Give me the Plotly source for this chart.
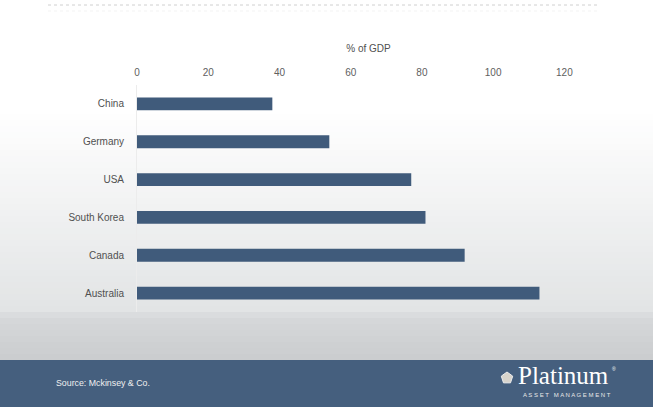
import plotly.graph_objects as go
import math

countries = ["China", "Germany", "USA", "South Korea", "Canada", "Australia"]
pct_gdp = [38, 54, 77, 81, 92, 113]
tick_vals = [0, 20, 40, 60, 80, 100, 120]

W, H = 653, 407
L, R, T, B = 137, 53, 85, 95
PW, PH = W - L - R, H - T - B


def px(x):
    return (x - L) / PW


def py(y):
    return (H - B - y) / PH


def lerp(c1, c2, t):
    return "rgb(%d,%d,%d)" % tuple(round(a + (b - a) * t) for a, b in zip(c1, c2))


fig = go.Figure(go.Bar(
    x=pct_gdp, y=countries, orientation="h",
    marker=dict(color="#405b7b", line=dict(width=0)),
    width=0.34,
))

shapes = []
# background gradient
stops = [(0, (255, 255, 255)), (110, (255, 255, 255)), (310, (226, 228, 229)),
         (318, (214, 216, 218)), (360, (202, 204, 206))]
n = 60
for i in range(n):
    y0 = i * 360 / n
    y1 = (i + 1) * 360 / n
    ym = (y0 + y1) / 2
    for (a, ca), (b, cb) in zip(stops[:-1], stops[1:]):
        if a <= ym <= b:
            col = lerp(ca, cb, (ym - a) / (b - a))
            break
    shapes.append(dict(type="rect", xref="paper", yref="paper", layer="below",
                       x0=px(0), x1=px(W), y0=py(y1 + 0.5), y1=py(y0),
                       fillcolor=col, line=dict(width=0)))
# footer band
shapes.append(dict(type="rect", xref="paper", yref="paper", layer="above",
                   x0=px(0), x1=px(W), y0=py(H), y1=py(360),
                   fillcolor="#455f7e", line=dict(width=0)))
# top faint dotted lines
shapes.append(dict(type="line", xref="paper", yref="paper", x0=px(48), x1=px(600),
                   y0=py(5), y1=py(5), line=dict(color="#c4c4c4", width=0.8, dash="dot")))
shapes.append(dict(type="line", xref="paper", yref="paper", x0=px(48), x1=px(600),
                   y0=py(11), y1=py(11), line=dict(color="#f0f0f0", width=0.8, dash="dot")))
# logo pentagon
cx, cy, r = 507, 378, 6
pts = []
for k in range(5):
    ang = math.pi / 2 + k * 2 * math.pi / 5
    pts.append((px(cx + r * math.cos(ang)), py(cy - r * math.sin(ang))))
path = "M " + " L ".join("%f,%f" % p for p in pts) + " Z"
shapes.append(dict(type="path", xref="paper", yref="paper", path=path,
                   fillcolor="#d8d4cc", line=dict(color="#eeeeee", width=1)))

annotations = [
    dict(text="Source: Mckinsey & Co.", xref="paper", yref="paper",
         x=px(54), y=py(383), xanchor="left", yanchor="middle", showarrow=False,
         font=dict(family="Liberation Sans, Arial", size=8.8, color="#f0f0f0")),
    dict(text="Platinum", xref="paper", yref="paper",
         x=px(516), y=py(375), xanchor="left", yanchor="middle", showarrow=False,
         font=dict(family="Liberation Serif, Times New Roman", size=25, color="#ffffff")),
    dict(text="®", xref="paper", yref="paper",
         x=px(610), y=py(369), xanchor="left", yanchor="middle", showarrow=False,
         font=dict(family="Liberation Sans", size=5, color="#ffffff")),
    dict(text="A S S E T   M A N A G E M E N T", xref="paper", yref="paper",
         x=px(613), y=py(395), xanchor="right", yanchor="middle", showarrow=False,
         font=dict(family="Liberation Sans", size=6, color="#e8e8e8")),
]

fig.update_layout(
    width=W, height=H,
    margin=dict(l=L, r=R, t=T, b=B, pad=0),
    paper_bgcolor="#ffffff", plot_bgcolor="rgba(0,0,0,0)",
    showlegend=False, bargap=0.66,
    shapes=shapes, annotations=annotations,
    font=dict(family="Liberation Sans, Arial", size=10, color="#555555"),
    xaxis=dict(side="top", range=[0, 130], tickvals=tick_vals, showgrid=False,
               zeroline=False, showline=False, ticks="", ticklabelstandoff=6,
               tickfont=dict(size=10, color="#606060"),
               title=dict(text="% of GDP", standoff=12, font=dict(size=10, color="#505050"))),
    yaxis=dict(categoryorder="array", categoryarray=countries[::-1],
               showgrid=False, zeroline=False, showline=True, linecolor="#ececec",
               linewidth=1, ticks="", ticklabelstandoff=10,
               tickfont=dict(size=10, color="#505050")),
)

fig.write_html("out.html", config={"displayModeBar": False},
               post_script="document.body.style.margin='0';document.body.style.overflow='hidden';")
